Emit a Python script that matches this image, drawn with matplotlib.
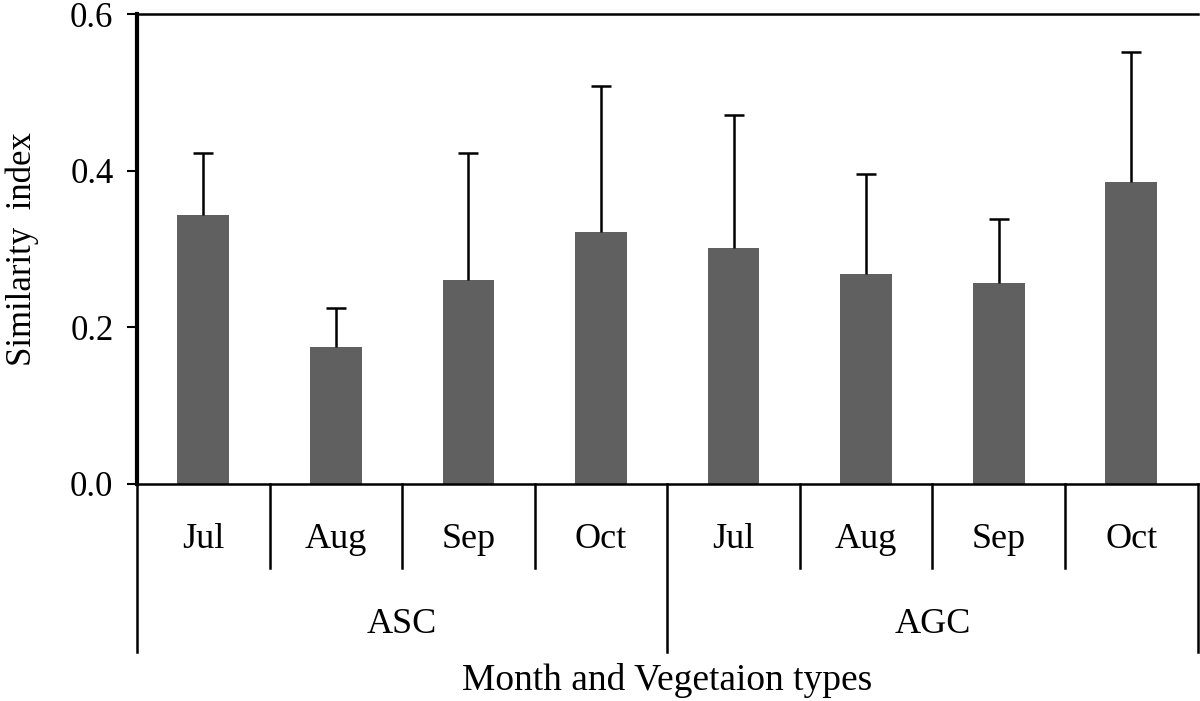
import matplotlib
matplotlib.use("Agg")
import matplotlib.pyplot as plt
import numpy as np

months = ["Jul", "Aug", "Sep", "Oct", "Jul", "Aug", "Sep", "Oct"]
groups = ["ASC", "AGC"]
means = [0.343, 0.175, 0.261, 0.322, 0.301, 0.268, 0.257, 0.386]
errors = [0.080, 0.050, 0.162, 0.186, 0.170, 0.128, 0.081, 0.165]
yticks = [0.0, 0.2, 0.4, 0.6]

plt.rcParams['font.family'] = ['Liberation Serif', 'DejaVu Serif']

fig = plt.figure(figsize=(12, 7.01), dpi=100)
ax = fig.add_axes([0.1142, 0.3096, 0.8838, 0.6704])

x = np.arange(len(means))
ax.bar(x, means, width=0.39, color="#606060", zorder=2)
cont = ax.errorbar(x, means, yerr=[np.zeros(len(errors)), errors], fmt="none",
                   ecolor="black", elinewidth=1.8, capsize=7, capthick=1.8, zorder=3)
caps = cont[1]
if len(caps) >= 2:
    caps[0].set_visible(False)

ax.set_xlim(-0.5, len(means) - 0.5)
ax.set_ylim(0, 0.6)
ax.set_yticks(yticks)
ax.set_yticklabels([f"{v:.1f}" for v in yticks], fontsize=25)
ax.tick_params(axis="y", direction="out", length=7, width=1.5, pad=10)
ax.set_xticks([])

ax.spines["right"].set_visible(False)
ax.spines["left"].set_linewidth(3)
ax.spines["top"].set_linewidth(1.8)
ax.spines["bottom"].set_linewidth(1.8)

trans = ax.get_xaxis_transform()
for b in np.arange(-0.5, len(means), 1.0):
    long = (b in (-0.5, 3.5, len(means) - 0.5))
    y1 = -0.357 if long else -0.178
    ax.plot([b, b], [0, y1], transform=trans, color="black", lw=1.8, clip_on=False)
for i, m in enumerate(months):
    ax.text(i, -0.119, m, transform=trans, ha="center", va="center", fontsize=26)
for g, gname in enumerate(groups):
    ax.text(g * 4 + 1.5, -0.3, gname, transform=trans, ha="center", va="center", fontsize=26)

ax.text(0.5, -0.418, "Month and Vegetaion types", transform=ax.transAxes,
        ha="center", va="center", fontsize=27)
ax.set_ylabel("Similarity  index", fontsize=25, labelpad=22)

fig.savefig("out.png", dpi=100)
